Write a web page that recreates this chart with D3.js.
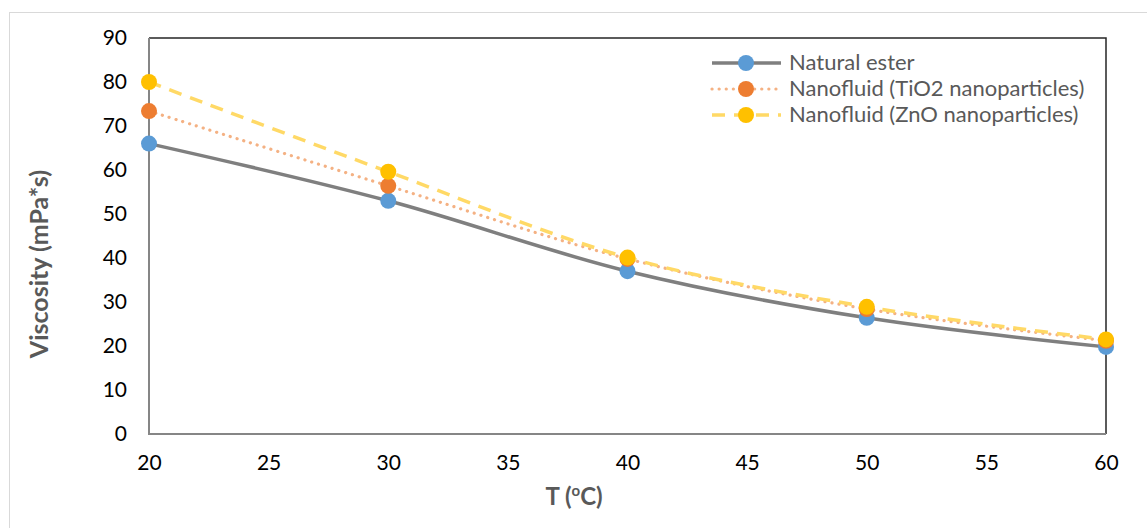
<!DOCTYPE html>
<html><head><meta charset="utf-8">
<script src="https://cdn.jsdelivr.net/npm/d3@7"></script>
<style>body{margin:0;background:#fff;}svg{display:block;font-family:Lato,"Open Sans",sans-serif;}</style>
</head><body>
<script>
const temps = [20, 30, 40, 50, 60];
const naturalEster = [66, 53, 37, 26.4, 19.8];
const tio2 = [73.4, 56.4, 39.8, 28.4, 21.2];
const zno = [80, 59.6, 40.1, 28.9, 21.5];
const seriesNames = ["Natural ester", "Nanofluid (TiO2 nanoparticles)", "Nanofluid (ZnO nanoparticles)"];
const xTicks = [20, 25, 30, 35, 40, 45, 50, 55, 60];
const yTicks = [0, 10, 20, 30, 40, 50, 60, 70, 80, 90];

const W = 1147, H = 528;
const svg = d3.select("body").append("svg").attr("width", W).attr("height", H);
svg.append("rect").attr("x", 9.5).attr("y", 12.5).attr("width", W).attr("height", H).attr("fill", "#fff").attr("stroke", "#d9d9d9").attr("stroke-width", 1);

const L = 149, R = 1106, T = 38, B = 434;
const x = d3.scaleLinear().domain([20, 60]).range([L, R]);
const y = d3.scaleLinear().domain([0, 90]).range([B, T]);

// plot border
svg.append("path").attr("d", `M${L},${T}H${R}V${B}`).attr("fill", "none").attr("stroke", "#262626").attr("stroke-width", 1.5);
svg.append("path").attr("d", `M${L},${T}V${B}H${R}`).attr("fill", "none").attr("stroke", "#868686").attr("stroke-width", 2);

// axes
const yAxis = svg.append("g").attr("transform", `translate(${L},0)`).call(d3.axisLeft(y).tickValues(yTicks).tickSize(0).tickPadding(22));
yAxis.select(".domain").remove();
yAxis.selectAll("text").attr("font-size", 21).attr("fill", "#000").attr("font-family", "Lato");
const xAxis = svg.append("g").attr("transform", `translate(0,${B})`).call(d3.axisBottom(x).tickValues(xTicks).tickSize(0).tickPadding(21));
xAxis.select(".domain").remove();
xAxis.selectAll("text").attr("font-size", 21).attr("fill", "#000").attr("font-family", "Lato");

svg.append("text").attr("x", 574).attr("y", 505).attr("text-anchor", "middle").attr("font-size", 24).attr("font-weight", "bold").attr("fill", "#595959")
  .html('T (<tspan baseline-shift="super" font-size="15">o</tspan>C)');
svg.append("text").attr("transform", `translate(48,${(T + B) / 2 + 28}) rotate(-90)`).attr("text-anchor", "middle").attr("font-size", 25).attr("font-weight", "bold").attr("fill", "#595959").text("Viscosity (mPa*s)");

const styles = [
  {line: "#7f7f7f", dash: null, width: 3.5, cap: "butt", marker: "#5b9bd5"},
  {line: "#f4b183", dash: "0.1 7", width: 3.2, cap: "round", marker: "#ed7d31"},
  {line: "#ffd966", dash: "13 9", width: 3.5, cap: "butt", marker: "#ffc000"}
];
const data = [naturalEster, tio2, zno];
const line = d3.line().x((d, i) => x(temps[i])).y(d => y(d)).curve(d3.curveCatmullRom.alpha(0));

data.forEach((vals, s) => {
  const st = styles[s];
  svg.append("path").datum(vals).attr("d", line).attr("fill", "none").attr("stroke", st.line)
    .attr("stroke-width", st.width).attr("stroke-dasharray", st.dash).attr("stroke-linecap", st.cap);
  svg.selectAll(null).data(vals).enter().append("circle")
    .attr("cx", (d, i) => x(temps[i])).attr("cy", d => y(d)).attr("r", 8).attr("fill", st.marker);
});

// legend
const legY = [63, 89, 115];
seriesNames.forEach((name, i) => {
  const st = styles[i];
  const g = svg.append("g");
  g.append("line").attr("x1", 712).attr("x2", 781).attr("y1", legY[i]).attr("y2", legY[i]).attr("stroke", st.line)
    .attr("stroke-width", st.width).attr("stroke-dasharray", st.dash).attr("stroke-linecap", st.cap);
  g.append("circle").attr("cx", 746).attr("cy", legY[i]).attr("r", 8).attr("fill", st.marker);
  g.append("text").attr("x", 789).attr("y", legY[i] + 7).attr("font-size", 22).attr("fill", "#595959").text(name);
});
</script>
</body></html>
